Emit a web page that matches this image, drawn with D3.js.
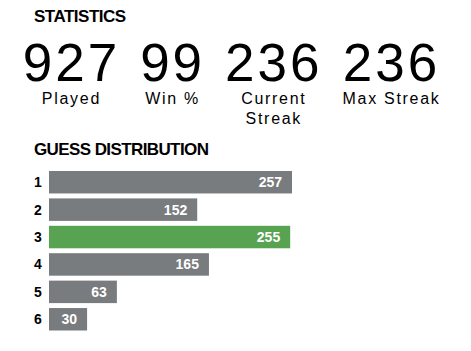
<html>
<head>
<style>
  body { margin: 0; background: #fff; }
  text { font-family: "Liberation Sans", Arial, sans-serif; fill: #000; }
</style>
</head>
<body>
<svg id="chart" width="471" height="351"></svg>
<script src="https://cdn.jsdelivr.net/npm/d3@7"></script>
<script>
  // stats
  let statValues = ["927", "99", "236", "236"]
  let statLabels = [["Played"], ["Win %"], ["Current", "Streak"], ["Max Streak"]]
  // guess distribution
  let guesses = ["1", "2", "3", "4", "5", "6"]
  let counts = [257, 152, 255, 165, 63, 30]
  let currentGuess = "3"

  let svg = d3.select("#chart")

  svg.append("text")
    .attr("x", 34).attr("y", 21.5)
    .style("font-size", "17px").style("font-weight", "bold")
    .style("letter-spacing", "-0.5px")
    .text("STATISTICS")

  // stat cells laid out side by side, each as wide as its content
  let cells = svg.selectAll("g.stat").data(statValues.map((v, i) => ({ value: v, label: statLabels[i] })))
    .enter().append("g").attr("class", "stat")

  cells.append("text").attr("class", "num")
    .attr("y", 81)
    .attr("text-anchor", "middle")
    .style("font-size", "53px")
    .style("letter-spacing", "3px")
    .text(d => d.value)

  cells.each(function(d) {
    let g = d3.select(this)
    d.label.forEach((line, j) => {
      g.append("text").attr("class", "lab")
        .attr("y", 104 + j * 19.5)
        .attr("text-anchor", "middle")
        .style("font-size", "16px")
        .style("letter-spacing", "1.7px")
        .text(line)
    })
  })

  let cursor = 22.7
  cells.each(function() {
    let g = d3.select(this)
    let w = 0
    g.selectAll("text").each(function() { w = Math.max(w, this.getBBox().width) })
    g.attr("transform", `translate(${cursor + w / 2},0)`)
    cursor += w + 20
  })

  svg.append("text")
    .attr("x", 34).attr("y", 155)
    .style("font-size", "17px").style("font-weight", "bold")
    .style("letter-spacing", "-0.6px")
    .text("GUESS DISTRIBUTION")

  let x = d3.scaleLinear().domain([0, d3.max(counts)]).range([11, 243])
  let y = d3.scaleBand().domain(guesses).range([168.25, 333.25])
    .paddingInner(0.18).paddingOuter(0.1)

  let rows = svg.selectAll("g.row").data(guesses.map((g, i) => ({ guess: g, count: counts[i] })))
    .enter().append("g").attr("class", "row")
    .attr("transform", d => `translate(0,${y(d.guess)})`)

  rows.append("text")
    .attr("x", 38).attr("y", y.bandwidth() / 2 + 5)
    .attr("text-anchor", "middle")
    .style("font-size", "14px").style("font-weight", "bold")
    .text(d => d.guess)

  rows.append("rect")
    .attr("x", 49)
    .attr("width", d => x(d.count))
    .attr("height", y.bandwidth())
    .style("fill", d => d.guess === currentGuess ? "#58a352" : "#787c7e")

  rows.append("text")
    .attr("x", d => 49 + x(d.count) - 10)
    .attr("y", y.bandwidth() / 2 + 5)
    .attr("text-anchor", "end")
    .style("font-size", "14px").style("font-weight", "bold")
    .style("fill", "#fff")
    .text(d => d.count)
</script>
</body>
</html>
